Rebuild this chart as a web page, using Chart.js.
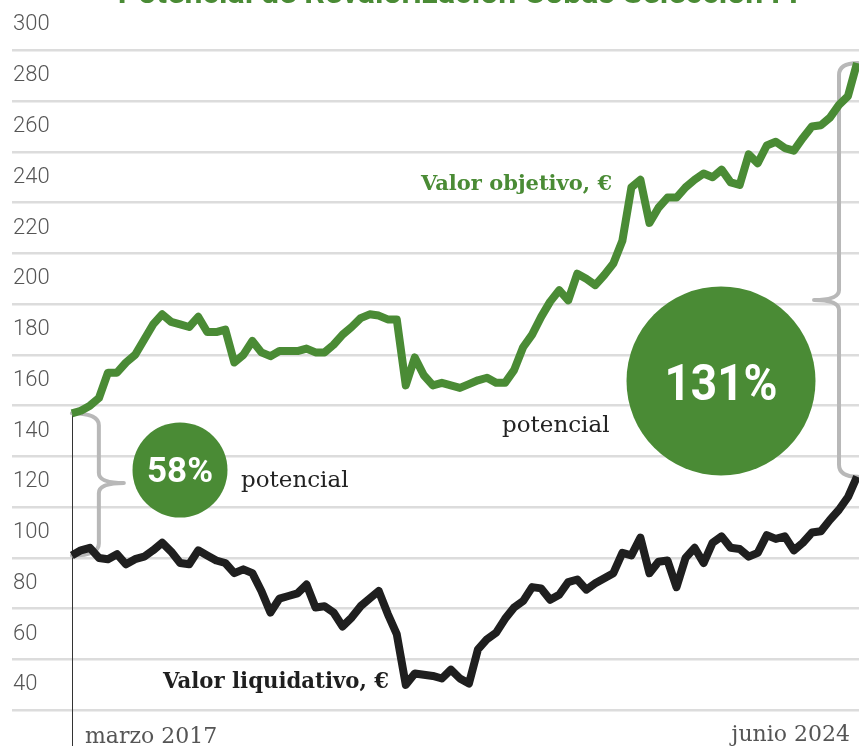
<!DOCTYPE html>
<html>
<head>
<meta charset="utf-8">
<script src="https://cdn.jsdelivr.net/npm/chart.js@4"></script>
<style>
  html, body { margin: 0; padding: 0; background: #fff; }
  #wrap { width: 859px; height: 746px; }
</style>
</head>
<body>
<div id="wrap"><canvas id="chart" width="859" height="746"></canvas></div>
<script>
// valores mensuales, marzo 2017 - junio 2024
const valorObjetivo = [
  147, 148, 150, 153, 163, 163, 167, 170, 176, 182,
  186, 183, 182, 181, 185, 179, 179, 180, 167, 170,
  175.5, 171, 169.5, 171.5, 171.5, 171.5, 172.5, 171, 171, 174,
  178, 181, 184.5, 186, 185.5, 184, 184, 158, 169, 162,
  158, 159, 158, 157, 158.5, 160, 161, 159, 159, 164,
  173, 178, 185, 191, 195.5, 191.5, 202, 200, 197.5, 201.5,
  206, 215, 236, 239, 222, 228, 232, 232, 236, 239,
  241.5, 240, 243, 238, 237, 249, 245.5, 252.5, 254, 251.5,
  250.5, 255.5, 260, 260.5, 263.5, 268.5, 272, 285
];
const valorLiquidativo = [
  91, 93, 94, 90, 89.5, 91.5, 87.5, 89.5, 90.5, 93,
  96, 92.5, 88, 87.5, 93, 91, 89, 88, 84, 85.5,
  84, 77, 68.5, 74, 75, 76, 79.5, 70.5, 71, 68.5,
  63, 66.5, 71, 74, 77, 68, 60, 40, 44.5, 44,
  43.5, 42.5, 46, 42.5, 40.5, 54, 58, 60.5, 66, 70.5,
  73, 78.5, 78, 73.5, 75.5, 80.5, 81.5, 77.5, 80, 82,
  84, 92, 91, 98, 84, 88.5, 89, 78.5, 90, 94,
  88, 96, 98.5, 94, 93.5, 90.5, 92, 99, 97.5, 98.5,
  93, 96, 100, 100.5, 105, 109, 114, 122
];
const nombresMes = ['ene', 'feb', 'mar', 'abr', 'may', 'jun', 'jul', 'ago', 'sep', 'oct', 'nov', 'dic'];
const meses = valorObjetivo.map((_, i) => nombresMes[(i + 2) % 12] + ' ' + (2017 + Math.floor((i + 2) / 12)));

const verde = '#4a8b35';
const negro = '#1f1f1f';
const gris = '#b8b8b8';

function llave(ctx, x, yA, yB, dx, f) {
  const bx = x + dx;
  const dir = Math.sign(dx);
  const ym = yA + (yB - yA) * f;
  const tip = bx + dir * 25;
  ctx.beginPath();
  ctx.moveTo(x, yA);
  ctx.quadraticCurveTo(bx, yA, bx, yA + 12);
  ctx.lineTo(bx, ym - 10);
  ctx.quadraticCurveTo(bx, ym, tip, ym);
  ctx.moveTo(tip, ym);
  ctx.quadraticCurveTo(bx, ym, bx, ym + 10);
  ctx.lineTo(bx, yB - 12);
  ctx.quadraticCurveTo(bx, yB, x, yB);
  ctx.stroke();
}

const anotaciones = {
  id: 'anotaciones',
  beforeDatasetsDraw(chart) {
    const { ctx, scales: { x, y } } = chart;
    const n = valorObjetivo.length - 1;
    const x0 = x.getPixelForValue(0);
    const xN = x.getPixelForValue(n);
    ctx.save();
    // línea de inicio
    ctx.strokeStyle = '#333';
    ctx.lineWidth = 1;
    ctx.beginPath();
    ctx.moveTo(Math.round(x0) + 0.5, y.getPixelForValue(valorObjetivo[0]));
    ctx.lineTo(Math.round(x0) + 0.5, chart.height);
    ctx.stroke();
    // llaves
    ctx.strokeStyle = gris;
    ctx.lineWidth = 4;
    ctx.lineCap = 'round';
    ctx.lineJoin = 'round';
    llave(ctx, x0, y.getPixelForValue(valorObjetivo[0]), y.getPixelForValue(valorLiquidativo[0]), 27, 0.49);
    llave(ctx, xN + 1, y.getPixelForValue(valorObjetivo[n]), y.getPixelForValue(valorLiquidativo[n]), -19, 0.573);
    // círculos
    ctx.fillStyle = verde;
    ctx.beginPath();
    ctx.arc(180, 470, 47.5, 0, Math.PI * 2);
    ctx.fill();
    ctx.beginPath();
    ctx.arc(721, 381, 94.5, 0, Math.PI * 2);
    ctx.fill();
    ctx.restore();
  },
  afterDatasetsDraw(chart) {
    const { ctx } = chart;
    ctx.save();
    ctx.textBaseline = 'alphabetic';

    // título (cortado arriba)
    ctx.fillStyle = verde;
    ctx.textAlign = 'center';
    ctx.font = 'bold 32px Roboto';
    ctx.fillText('Potencial de Revalorización Cobas Selección FI', 458, 3, 770);

    ctx.fillStyle = '#fff';
    ctx.font = 'bold 35px Roboto';
    ctx.fillText('58%', 180, 482, 66);
    ctx.font = 'bold 50px Roboto';
    ctx.fillText('131%', 721, 400, 113);

    ctx.textAlign = 'right';
    ctx.fillStyle = verde;
    ctx.font = 'bold 21px "DejaVu Serif"';
    ctx.fillText('Valor objetivo, €', 612, 190, 192);

    ctx.textAlign = 'left';
    ctx.fillStyle = negro;
    ctx.font = 'bold 22px "DejaVu Serif"';
    ctx.fillText('Valor liquidativo, €', 163, 688, 226);

    ctx.fillStyle = '#222';
    ctx.font = '23px "DejaVu Serif"';
    ctx.fillText('potencial', 241, 487, 110);
    ctx.fillText('potencial', 502, 432, 110);

    ctx.fillStyle = '#555';
    ctx.font = '22px "DejaVu Serif"';
    ctx.fillText('marzo 2017', 85, 743, 134);
    ctx.textAlign = 'right';
    ctx.fillText('junio 2024', 850, 741, 124);
    ctx.restore();
  }
};

new Chart(document.getElementById('chart'), {
  type: 'line',
  data: {
    labels: meses,
    datasets: [
      {
        label: 'Valor objetivo, €',
        data: valorObjetivo.map((v, i) => ({ x: i, y: v })),
        borderColor: verde,
        borderWidth: 8,
        pointRadius: 0,
        tension: 0,
        borderJoinStyle: 'round'
      },
      {
        label: 'Valor liquidativo, €',
        data: valorLiquidativo.map((v, i) => ({ x: i, y: v })),
        borderColor: negro,
        borderWidth: 8,
        pointRadius: 0,
        tension: 0,
        borderJoinStyle: 'round'
      }
    ]
  },
  options: {
    responsive: false,
    animation: false,
    devicePixelRatio: 1,
    layout: { padding: { left: 10, right: 0, top: 0, bottom: 0 } },
    plugins: {
      legend: { display: false },
      title: { display: false },
      tooltip: { enabled: false }
    },
    scales: {
      x: {
        type: 'linear',
        min: -6.633,
        max: 87.22,
        display: false
      },
      y: {
        min: 15.9,
        max: 309.85,
        border: { display: false },
        grid: {
          drawTicks: false,
          lineWidth: 2.5,
          color: (c) => (c.tick && c.tick.value % 20 === 10) ? '#dcdcdc' : 'rgba(0,0,0,0)'
        },
        ticks: {
          stepSize: 10,
          includeBounds: false,
          autoSkip: false,
          mirror: true,
          padding: 1,
          color: '#555',
          font: { family: 'Roboto', size: 22, weight: 300 },
          callback: (v) => (v % 20 === 0 && v >= 40 && v <= 300) ? String(v) : ''
        },
        afterFit(scale) {
          scale.paddingTop = 0;
          scale.paddingBottom = 0;
        }
      }
    }
  },
  plugins: [anotaciones]
});
</script>
</body>
</html>
